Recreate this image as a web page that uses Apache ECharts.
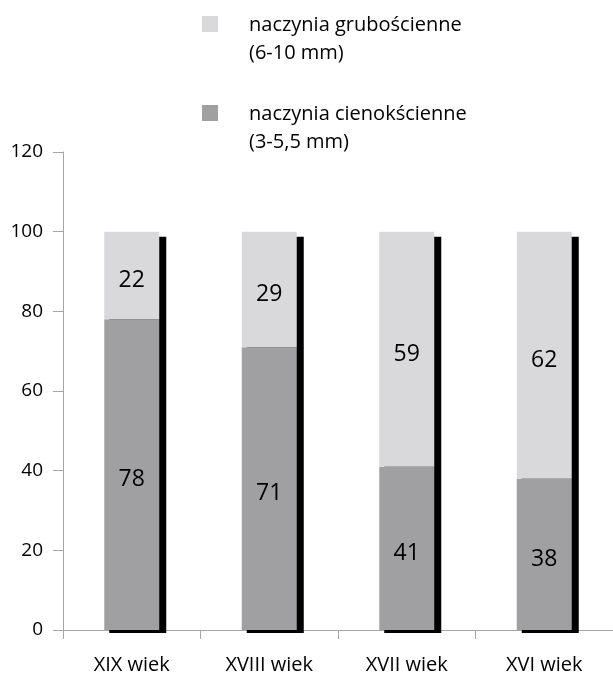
<!DOCTYPE html>
<html>
<head>
<meta charset="utf-8">
<script src="https://cdn.jsdelivr.net/npm/echarts@6/dist/echarts.min.js"></script>
<style>html,body{margin:0;padding:0;background:#fff}#c{width:613px;height:678px}</style>
</head>
<body>
<div id="c"></div>
<script>
const categories = ['XIX wiek', 'XVIII wiek', 'XVII wiek', 'XVI wiek'];
const thinWalled = [78, 71, 41, 38];
const thickWalled = [22, 29, 59, 62];
const thinName = 'naczynia cienokścienne\n(3-5,5 mm)';
const thickName = 'naczynia grubościenne\n(6-10 mm)';
const yTicks = [0, 20, 40, 60, 80, 100, 120];

const FONT = 'Open Sans';
const BAR_W = 55;
const LIGHT = '#d9d9db';
const DARK = '#a0a0a2';
const AXIS = '#a6a6a6';

const totals = categories.map((c, i) => [i, thinWalled[i] + thickWalled[i]]);

const chart = echarts.init(document.getElementById('c'), null, {renderer: 'canvas'});
chart.setOption({
  animation: false,
  grid: {left: 63, right: -3, top: 152, bottom: 48, containLabel: false},
  xAxis: {
    type: 'category',
    data: categories,
    axisLine: {lineStyle: {color: AXIS, width: 1}},
    axisTick: {show: true, length: 9, lineStyle: {color: AXIS}},
    axisLabel: {color: '#000', fontFamily: FONT, fontSize: 20, margin: 25}
  },
  yAxis: {
    type: 'value',
    min: yTicks[0], max: yTicks[yTicks.length - 1], interval: 20,
    splitLine: {show: false},
    axisLine: {show: true, lineStyle: {color: AXIS, width: 1}},
    axisTick: {show: true, length: 10, lineStyle: {color: AXIS}},
    axisLabel: {color: '#000', fontFamily: FONT, fontSize: 19, margin: 20, padding: [3, 0, 0, 0]}
  },
  graphic: [
    {type: 'rect', shape: {x: 202, y: 16, width: 16, height: 16}, style: {fill: LIGHT}},
    {type: 'text', style: {x: 249, y: 11, text: thickName, font: '20px "' + FONT + '"', lineHeight: 28, fill: '#000', verticalAlign: 'top'}},
    {type: 'rect', shape: {x: 202, y: 105, width: 16, height: 16}, style: {fill: DARK}},
    {type: 'text', style: {x: 249, y: 100, text: thinName, font: '20px "' + FONT + '"', lineHeight: 28, fill: '#000', verticalAlign: 'top'}}
  ],
  series: [
    {
      type: 'custom',
      z: 1,
      data: totals,
      renderItem: function (params, api) {
        const top = api.coord([api.value(0), api.value(1)]);
        const bot = api.coord([api.value(0), 0]);
        const x0 = top[0] - BAR_W / 2 + 5;
        const y0 = top[1] + 5;
        return {
          type: 'rect',
          shape: {x: x0, y: y0, width: BAR_W + 2, height: bot[1] + 3 - y0},
          style: {fill: '#000'}
        };
      }
    },
    {
      name: thinName, type: 'bar', stack: 'total', z: 3, barWidth: BAR_W,
      data: thinWalled,
      itemStyle: {color: DARK},
      label: {show: true, position: 'inside', offset: [0, 5], color: '#000', fontFamily: FONT, fontSize: 23}
    },
    {
      name: thickName, type: 'bar', stack: 'total', z: 3, barWidth: BAR_W,
      data: thickWalled,
      itemStyle: {color: LIGHT},
      label: {show: true, position: 'inside', offset: [0, 5], color: '#000', fontFamily: FONT, fontSize: 23}
    }
  ]
});
</script>
</body>
</html>
